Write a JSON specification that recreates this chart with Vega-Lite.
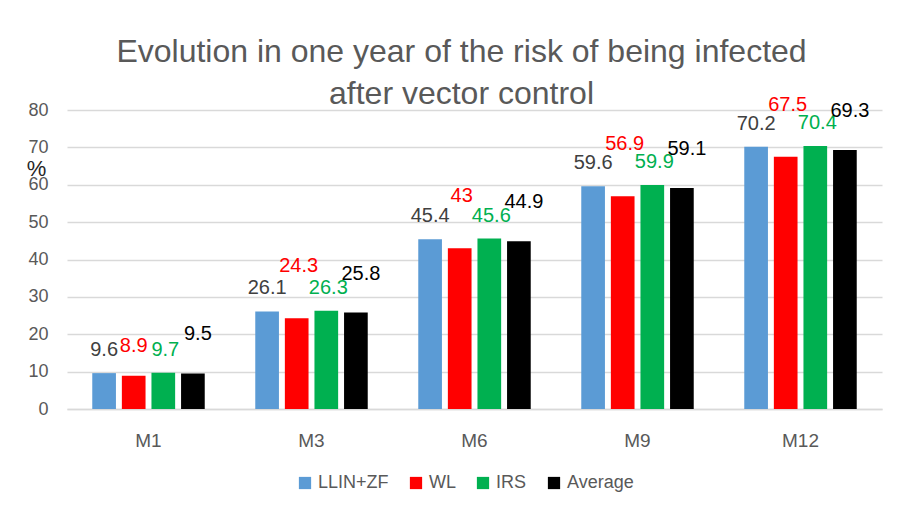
{
  "$schema": "https://vega.github.io/schema/vega-lite/v6.json",
  "width": 815,
  "height": 299,
  "autosize": "none",
  "padding": {"left": 67, "top": 110, "right": 20, "bottom": 103},
  "background": "white",
  "config": {
    "font": "Liberation Sans",
    "view": {"stroke": null}
  },
  "title": {
    "text": ["Evolution in one year of the risk of being infected", "after vector control"],
    "fontSize": 32,
    "fontWeight": "normal",
    "color": "#595959",
    "anchor": "middle",
    "frame": "group",
    "dx": -13,
    "lineHeight": 42,
    "baseline": "alphabetic",
    "offset": -41
  },
  "data": {
    "values": [
      {"Month": "M1", "Series": "LLIN+ZF", "Value": 9.6},
      {"Month": "M1", "Series": "WL", "Value": 8.9},
      {"Month": "M1", "Series": "IRS", "Value": 9.7},
      {"Month": "M1", "Series": "Average", "Value": 9.5},
      {"Month": "M3", "Series": "LLIN+ZF", "Value": 26.1},
      {"Month": "M3", "Series": "WL", "Value": 24.3},
      {"Month": "M3", "Series": "IRS", "Value": 26.3},
      {"Month": "M3", "Series": "Average", "Value": 25.8},
      {"Month": "M6", "Series": "LLIN+ZF", "Value": 45.4},
      {"Month": "M6", "Series": "WL", "Value": 43},
      {"Month": "M6", "Series": "IRS", "Value": 45.6},
      {"Month": "M6", "Series": "Average", "Value": 44.9},
      {"Month": "M9", "Series": "LLIN+ZF", "Value": 59.6},
      {"Month": "M9", "Series": "WL", "Value": 56.9},
      {"Month": "M9", "Series": "IRS", "Value": 59.9},
      {"Month": "M9", "Series": "Average", "Value": 59.1},
      {"Month": "M12", "Series": "LLIN+ZF", "Value": 70.2},
      {"Month": "M12", "Series": "WL", "Value": 67.5},
      {"Month": "M12", "Series": "IRS", "Value": 70.4},
      {"Month": "M12", "Series": "Average", "Value": 69.3}
    ]
  },
  "encoding": {
    "x": {
      "field": "Month",
      "type": "nominal",
      "sort": ["M1", "M3", "M6", "M9", "M12"],
      "scale": {"paddingInner": 0.31, "paddingOuter": 0.155},
      "axis": {
        "title": null,
        "labelAngle": 0,
        "labelFontSize": 19,
        "labelColor": "#595959",
        "labelPadding": 22,
        "ticks": false,
        "domainColor": "#D9D9D9",
        "domainWidth": 1.5,
        "grid": false
      }
    },
    "xOffset": {
      "field": "Series",
      "type": "nominal",
      "sort": ["LLIN+ZF", "WL", "IRS", "Average"],
      "scale": {"paddingInner": 0.2, "paddingOuter": 0}
    },
    "y": {
      "field": "Value",
      "type": "quantitative",
      "scale": {"domain": [0, 80], "nice": false},
      "axis": {
        "values": [0, 10, 20, 30, 40, 50, 60, 70, 80],
        "title": "%",
        "titleAngle": 0,
        "titleFontSize": 22,
        "titleFontWeight": "normal",
        "titleColor": "#262626",
        "titleX": -31,
        "titleY": 65,
        "titleAlign": "center",
        "titleBaseline": "alphabetic",
        "labelFontSize": 18,
        "labelColor": "#595959",
        "labelPadding": 19,
        "ticks": false,
        "domain": false,
        "grid": true,
        "gridColor": "#D9D9D9",
        "gridWidth": 1.5
      }
    }
  },
  "layer": [
    {
      "mark": {"type": "bar"},
      "encoding": {
        "color": {
          "field": "Series",
          "type": "nominal",
          "sort": ["LLIN+ZF", "WL", "IRS", "Average"],
          "scale": {
            "domain": ["LLIN+ZF", "WL", "IRS", "Average"],
            "range": ["#5B9BD5", "#FF0000", "#00B050", "#000000"]
          },
          "legend": {
            "title": null,
            "orient": "none",
            "direction": "horizontal",
            "legendX": 229,
            "legendY": 364,
            "symbolType": "square",
            "symbolSize": 150,
            "symbolStrokeWidth": 0,
            "labelFontSize": 18,
            "labelColor": "#595959",
            "labelOffset": 4,
            "columnPadding": 18
          }
        }
      }
    },
    {
      "transform": [{"filter": "datum.Series === 'LLIN+ZF'"}],
      "mark": {"type": "text", "baseline": "alphabetic", "dy": -17, "fontSize": 20, "color": "#404040"},
      "encoding": {
        "text": {"field": "Value", "type": "quantitative"}
      }
    },
    {
      "transform": [{"filter": "datum.Series === 'IRS'"}],
      "mark": {"type": "text", "baseline": "alphabetic", "dy": -17, "dx": 2, "fontSize": 20, "color": "#00B050"},
      "encoding": {
        "text": {"field": "Value", "type": "quantitative"}
      }
    },
    {
      "transform": [{"filter": "datum.Series === 'WL' && datum.Month !== 'M1'"}],
      "mark": {"type": "text", "baseline": "alphabetic", "dy": -46, "dx": 2, "fontSize": 20, "color": "#FF0000"},
      "encoding": {
        "text": {"field": "Value", "type": "quantitative"}
      }
    },
    {
      "transform": [{"filter": "datum.Series === 'WL' && datum.Month === 'M1'"}],
      "mark": {"type": "text", "baseline": "alphabetic", "dy": -24, "fontSize": 20, "color": "#FF0000"},
      "encoding": {
        "text": {"field": "Value", "type": "quantitative"}
      }
    },
    {
      "transform": [{"filter": "datum.Series === 'Average'"}],
      "mark": {"type": "text", "baseline": "alphabetic", "dy": -33, "dx": 5, "fontSize": 20, "color": "#000000"},
      "encoding": {
        "text": {"field": "Value", "type": "quantitative"}
      }
    }
  ]
}
